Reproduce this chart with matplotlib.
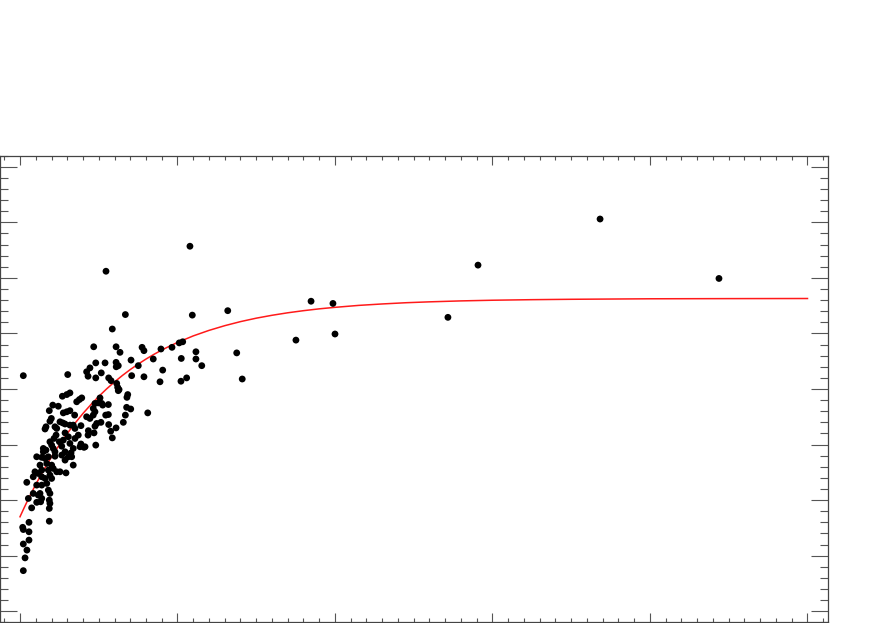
import numpy as np
import matplotlib
matplotlib.use("Agg")
import matplotlib.pyplot as plt
from matplotlib.ticker import MultipleLocator, NullFormatter

# scatter data
x_pts = [
    0.021, 0.546, 1.079, 0.669, 0.586, 1.094, 1.319, 1.376, 1.411, 1.154,
    1.117, 1.117, 1.752, 1.848, 1.987, 2.000, 2.717, 2.908, 3.683, 4.438,
    0.895, 0.965, 1.011, 1.033, 1.024, 0.906, 0.889, 1.022, 1.058,
    0.468, 0.610, 0.635, 0.775, 0.787, 0.481, 0.540, 0.610, 0.611, 0.624,
    0.705, 0.751, 0.846, 0.444, 0.423, 0.432, 0.516, 0.481, 0.563, 0.578,
    0.614, 0.620, 0.629, 0.709, 0.787, 0.684, 0.679, 0.392, 0.508, 0.624,
    0.476, 0.497, 0.519, 0.525, 0.561, 0.465, 0.476, 0.465, 0.544, 0.561,
    0.677, 0.703, 0.669, 0.811, 0.444, 0.487, 0.476, 0.514, 0.563, 0.610,
    0.656, 0.434, 0.470, 0.576, 0.586, 0.387, 0.413, 0.481,
    0.303, 0.269, 0.297, 0.317, 0.377, 0.360, 0.208, 0.243, 0.186, 0.275,
    0.297, 0.317, 0.347, 0.199, 0.190, 0.254, 0.271, 0.286, 0.423, 0.165,
    0.159, 0.222, 0.233, 0.317, 0.338, 0.349, 0.387, 0.229, 0.216, 0.286,
    0.307, 0.275, 0.370, 0.349, 0.432, 0.190, 0.201, 0.250, 0.265, 0.317,
    0.381, 0.148, 0.165, 0.211, 0.338, 0.406, 0.138, 0.180, 0.222, 0.265,
    0.307,
    0.148, 0.222, 0.286, 0.324, 0.106, 0.159, 0.286, 0.328, 0.338, 0.127,
    0.170, 0.201, 0.095, 0.116, 0.138, 0.180, 0.211, 0.233, 0.254, 0.292,
    0.084, 0.138, 0.159, 0.190, 0.201, 0.043, 0.106, 0.138, 0.170, 0.180,
    0.190, 0.084, 0.116, 0.127, 0.053, 0.138, 0.106, 0.131, 0.186, 0.190,
    0.074, 0.186, 0.186, 0.057, 0.017, 0.021, 0.057, 0.057, 0.021, 0.044,
    0.032, 0.021,
]
y_pts = [
    4.24, 6.12, 6.57, 5.34, 5.08, 5.33, 5.41, 4.65, 4.18, 4.42,
    4.67, 4.54, 4.88, 5.58, 5.54, 4.99, 5.29, 6.23, 7.06, 5.99,
    4.72, 4.75, 4.83, 4.85, 4.55, 4.34, 4.13, 4.14, 4.20,
    4.76, 4.76, 4.66, 4.75, 4.69, 4.47, 4.47, 4.48, 4.40, 4.42,
    4.52, 4.42, 4.54, 4.38, 4.31, 4.23, 4.29, 4.20, 4.20, 4.15,
    4.10, 4.03, 3.99, 4.24, 4.22, 3.90, 3.85, 3.84, 3.84, 3.97,
    3.74, 3.75, 3.74, 3.71, 3.72, 3.65, 3.59, 3.53, 3.53, 3.54,
    3.67, 3.64, 3.53, 3.57, 3.47, 3.38, 3.33, 3.40, 3.36, 3.30,
    3.40, 3.25, 3.21, 3.24, 3.12, 3.01, 2.96, 2.99,
    4.26, 3.87, 3.90, 3.93, 3.81, 3.77, 3.71, 3.69, 3.61, 3.57,
    3.59, 3.61, 3.53, 3.47, 3.42, 3.41, 3.39, 3.37, 3.50, 3.32,
    3.28, 3.32, 3.29, 3.35, 3.35, 3.29, 3.34, 3.17, 3.11, 3.21,
    3.14, 3.08, 3.17, 3.11, 3.17, 3.05, 2.99, 3.05, 2.97, 3.02,
    2.96, 2.93, 2.90, 2.93, 2.93, 2.95, 2.77, 2.78, 2.79, 2.81,
    2.78,
    2.87, 2.87, 2.87, 2.85, 2.78, 2.75, 2.72, 2.78, 2.63, 2.63,
    2.66, 2.63, 2.51, 2.48, 2.54, 2.54, 2.57, 2.51, 2.51, 2.49,
    2.42, 2.42, 2.39, 2.45, 2.39, 2.32, 2.27, 2.27, 2.30, 2.18,
    2.12, 2.12, 2.09, 2.12, 2.03, 2.03, 1.96, 1.97, 2.00, 1.94,
    1.86, 1.85, 1.62, 1.60, 1.51, 1.47, 1.43, 1.28, 1.21, 1.10,
    0.96, 0.73,
]

# fitted curve
x_fit = [0.0, 0.025, 0.05, 0.075, 0.1, 0.15, 0.2, 0.25, 0.3, 0.35, 0.4, 0.45,
         0.5, 0.55, 0.6, 0.65, 0.7, 0.75, 0.8, 0.85, 0.9, 0.95, 1.0, 1.1,
         1.2, 1.3, 1.4, 1.5, 1.6, 1.7, 1.8, 1.9, 2.0, 2.15, 2.3, 2.45, 2.6,
         2.8, 3.0, 3.25, 3.5, 4.0, 4.5, 5.0]
y_fit = [1.700, 1.854, 2.003, 2.145, 2.282, 2.540, 2.778, 2.997, 3.200, 3.387,
         3.560, 3.719, 3.866, 4.002, 4.127, 4.243, 4.350, 4.448, 4.539, 4.623,
         4.701, 4.772, 4.838, 4.956, 5.055, 5.140, 5.213, 5.275, 5.327, 5.372,
         5.410, 5.443, 5.470, 5.505, 5.531, 5.553, 5.569, 5.586, 5.598, 5.608,
         5.615, 5.624, 5.627, 5.629]

fig = plt.figure(figsize=(8.72, 6.23), dpi=100)
ax = fig.add_axes([0.0, 0.0011, 0.9495, 0.7490])

ax.scatter(x_pts, y_pts, s=24, c="black", edgecolors="none", zorder=3)
ax.plot(x_fit, y_fit, color="#ff1a1a", lw=1.1, zorder=2)

ax.set_xlim(-0.127, 5.13)
ax.set_ylim(-0.2, 8.2)

ax.xaxis.set_major_locator(MultipleLocator(1))
ax.xaxis.set_minor_locator(MultipleLocator(0.1))
ax.yaxis.set_major_locator(MultipleLocator(1))
ax.yaxis.set_minor_locator(MultipleLocator(0.2))
ax.xaxis.set_major_formatter(NullFormatter())
ax.yaxis.set_major_formatter(NullFormatter())

ax.tick_params(axis="both", which="both", direction="in",
               top=True, right=True, color="#555555", width=0.8)
ax.tick_params(axis="x", which="major", length=6.5)
ax.tick_params(axis="x", which="minor", length=3.2)
ax.tick_params(axis="y", which="major", length=11.9)
ax.tick_params(axis="y", which="minor", length=5.8)

for s in ax.spines.values():
    s.set_color("#444444")
    s.set_linewidth(0.9)

fig.savefig("out.png", dpi=100)
